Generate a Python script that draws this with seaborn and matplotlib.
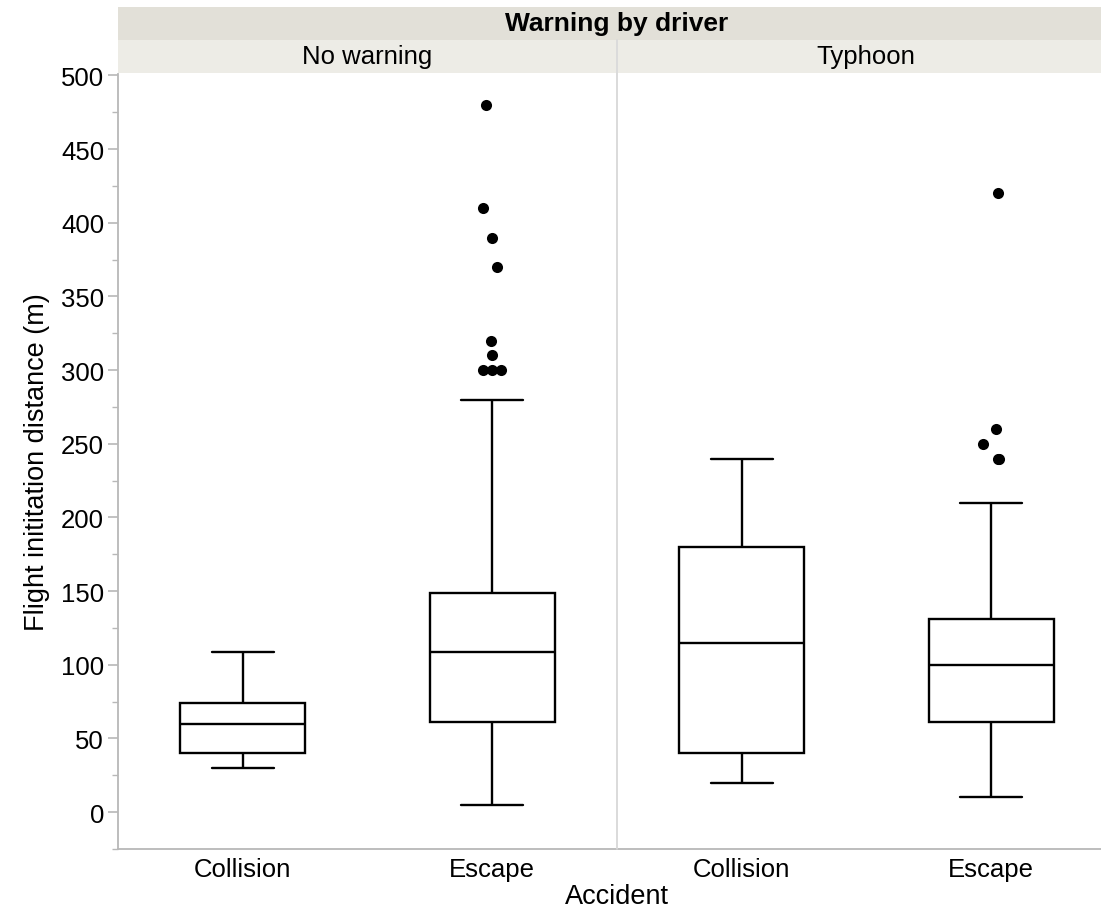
import numpy as np
import pandas as pd
import matplotlib
matplotlib.use("Agg")
import matplotlib.pyplot as plt
import seaborn as sns
from matplotlib.patches import Rectangle
from matplotlib.lines import Line2D

# ---- data (five-number summaries) ----
panels = ["No warning", "Typhoon"]
categories = ["Collision", "Escape"]
# order per box: whisker low, Q1, median, Q3, whisker high
nw_collision = [30, 40, 60, 74, 109]
nw_escape = [5, 61, 109, 149, 280]
ty_collision = [20, 40, 115, 180, 240]
ty_escape = [10, 61, 100, 131, 210]
nw_escape_outliers = [480, 410, 390, 370, 320, 310, 300, 300, 300]
ty_escape_outliers = [420, 260, 250, 240, 240]

rows = []
for panel, cat, vals in [("No warning", "Collision", nw_collision),
                         ("No warning", "Escape", nw_escape),
                         ("Typhoon", "Collision", ty_collision),
                         ("Typhoon", "Escape", ty_escape)]:
    for v in vals:
        rows.append({"panel": panel, "Accident": cat, "value": v})
box_df = pd.DataFrame(rows)

out_rows = []
for panel, vals in [("No warning", nw_escape_outliers), ("Typhoon", ty_escape_outliers)]:
    for v in vals:
        out_rows.append({"panel": panel, "Accident": "Escape", "value": v})
out_df = pd.DataFrame(out_rows)

sns.set_theme(style="white")
plt.rcParams['font.family'] = ['Liberation Sans', 'DejaVu Sans']
plt.rcParams['text.color'] = 'black'
plt.rcParams['axes.labelcolor'] = 'black'
plt.rcParams['xtick.color'] = 'black'
plt.rcParams['ytick.color'] = 'black'

W, H = 1101, 912
fig = plt.figure(figsize=(W / 100, H / 100), dpi=100)
ax0 = fig.add_axes([118 / W, 1 - 850 / H, 499 / W, 775 / H])
ax1 = fig.add_axes([617 / W, 1 - 850 / H, 499 / W, 775 / H], sharey=ax0)
axes = [ax0, ax1]

grey = "#b8b8b8"
FS = 18.5
np.random.seed(11)
for ax, panel in zip(axes, panels):
    d = box_df[box_df.panel == panel]
    sns.boxplot(data=d, x="Accident", y="value", order=categories, ax=ax,
                width=0.5, whis=1.5, showfliers=False, color="white",
                linecolor="black", linewidth=1.7)
    o = out_df[out_df.panel == panel]
    sns.stripplot(data=o, x="Accident", y="value", order=categories, ax=ax,
                  color="black", size=8, jitter=0.04, linewidth=0)
    ax.set_xlim(-0.5, 1.5)
    ax.set_ylim(-25, 501)
    ax.set_xlabel("")
    ax.set_ylabel("")
    for s in ["top", "right"]:
        ax.spines[s].set_visible(False)
    ax.spines["bottom"].set_color(grey)
    ax.spines["bottom"].set_linewidth(1.3)
    ax.spines["left"].set_color(grey)
    ax.spines["left"].set_linewidth(1.3)
    ax.tick_params(axis="x", length=0, labelsize=FS, pad=6, labelcolor="black")

ax1.spines["left"].set_visible(False)
ax0.set_yticks(np.arange(0, 501, 50))
ax0.set_yticks(np.arange(-25, 501, 25), minor=True)
ax0.tick_params(axis="y", which="major", length=7, width=1.2, color=grey,
                labelsize=FS, pad=3, labelcolor="black", left=True)
ax0.tick_params(axis="y", which="minor", length=4, width=1.0, color=grey, left=True)
ax1.tick_params(axis="y", which="both", left=False, labelleft=False)
ax0.set_ylabel("Flight inititation distance (m)", fontsize=19.5, labelpad=8, color="black")
fig.text(617 / W, 1 - 897 / H, "Accident", ha="center", va="center", fontsize=19.5,
         color="black")

# header strips
def fx(px):
    return px / W

def fy(py):
    return 1 - py / H

outer_col = "#e2e0d8"
inner_col = "#edece6"
fig.patches.append(Rectangle((fx(118), fy(41)), fx(W - 118), 33 / H,
                             transform=fig.transFigure, facecolor=outer_col,
                             edgecolor="none", zorder=0))
fig.text(fx(617), fy(24), "Warning by driver", ha="center", va="center",
         fontsize=19, fontweight="bold", color="black")
for x0, x1, label, xc in [(118, 616, panels[0], 367), (618, W, panels[1], 866)]:
    fig.patches.append(Rectangle((fx(x0), fy(74)), fx(x1 - x0), 33 / H,
                                 transform=fig.transFigure, facecolor=inner_col,
                                 edgecolor="none", zorder=0))
    fig.text(fx(xc), fy(57), label, ha="center", va="center", fontsize=FS, color="black")
fig.lines.append(Line2D([fx(617), fx(617)], [fy(850), fy(41)], transform=fig.transFigure,
                        color="#d8d8d8", linewidth=1.3))

fig.savefig("out.png", dpi=100)
